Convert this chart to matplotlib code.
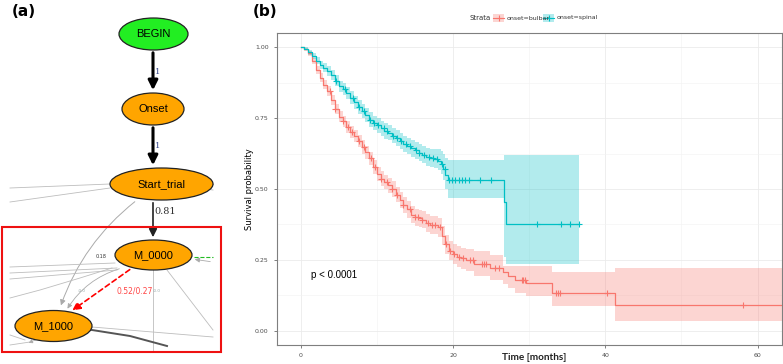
import numpy as np
import matplotlib
matplotlib.use('Agg')
import matplotlib.pyplot as plt
from matplotlib.patches import Ellipse, Rectangle, FancyArrowPatch
from matplotlib.lines import Line2D

# ---- Kaplan-Meier data ----
bulbar_t = [0, 0.5, 1.0, 1.5, 2.0, 2.5, 3.0, 3.5, 4.0, 4.5, 5.0, 5.5, 6.0, 6.5, 7.0, 7.5,
            8.0, 8.5, 9.0, 9.5, 10.0, 10.5, 11.0, 11.5, 12.0, 12.5, 13.0, 13.5, 14.0, 14.5,
            15.0, 15.5, 16.0, 16.5, 17.0, 17.5, 18.0, 18.5, 19.0, 19.5, 20.0, 20.5, 21.0,
            21.7, 22.8, 24.8, 26.6, 27.2, 28.2, 29.6, 33.0, 41.3, 63.2]
bulbar_s = [1.000, 0.992, 0.978, 0.950, 0.920, 0.893, 0.868, 0.845, 0.815, 0.782, 0.755,
            0.738, 0.720, 0.702, 0.686, 0.670, 0.648, 0.630, 0.608, 0.578, 0.552, 0.537,
            0.525, 0.513, 0.500, 0.480, 0.462, 0.443, 0.428, 0.410, 0.400, 0.396, 0.392,
            0.380, 0.374, 0.374, 0.365, 0.335, 0.305, 0.282, 0.270, 0.262, 0.255,
            0.250, 0.236, 0.222, 0.206, 0.195, 0.178, 0.167, 0.134, 0.092, 0.092]
bulbar_hi = [1.000, 0.996, 0.986, 0.961, 0.933, 0.908, 0.884, 0.862, 0.833, 0.801, 0.775,
             0.758, 0.741, 0.723, 0.708, 0.692, 0.671, 0.653, 0.632, 0.602, 0.577, 0.562,
             0.551, 0.539, 0.527, 0.507, 0.490, 0.471, 0.457, 0.439, 0.430, 0.426, 0.423,
             0.411, 0.406, 0.406, 0.398, 0.368, 0.339, 0.316, 0.305, 0.298, 0.292,
             0.289, 0.280, 0.269, 0.227, 0.227, 0.227, 0.228, 0.206, 0.222, 0.222]
bulbar_lo = [1.000, 0.988, 0.970, 0.939, 0.907, 0.878, 0.852, 0.828, 0.797, 0.763, 0.735,
             0.718, 0.699, 0.681, 0.664, 0.648, 0.625, 0.607, 0.584, 0.554, 0.527, 0.512,
             0.499, 0.487, 0.473, 0.453, 0.434, 0.415, 0.399, 0.381, 0.370, 0.366, 0.361,
             0.349, 0.342, 0.342, 0.332, 0.302, 0.271, 0.248, 0.235, 0.226, 0.218,
             0.210, 0.195, 0.180, 0.165, 0.150, 0.135, 0.122, 0.089, 0.036, 0.036]
bulbar_cens = [3.8, 4.5, 5.6, 6.2, 6.8, 7.6, 8.3, 9.2, 9.8, 10.6, 11.3, 12.0, 12.7, 13.5,
               14.3, 15.0, 15.4, 16.0, 16.7, 17.2, 17.6, 18.3, 19.1, 19.6, 20.1, 20.8,
               21.3, 22.3, 22.6, 23.8, 24.1, 24.4, 25.5, 26.0, 29.0, 29.2, 29.4,
               33.5, 33.8, 34.0, 40.2, 58.1]

spinal_t = [0, 0.5, 1.0, 1.5, 2.0, 2.5, 3.0, 3.5, 4.0, 4.5, 5.0, 5.5, 6.0, 6.5, 7.0, 7.5,
            8.0, 8.5, 9.0, 9.5, 10.0, 10.5, 11.0, 11.5, 12.0, 12.5, 13.0, 13.5, 14.0, 14.5,
            15.0, 15.5, 16.0, 16.5, 17.0, 17.5, 18.0, 18.4, 18.7, 19.0, 19.3, 26.7, 26.9, 36.6]
spinal_s = [1.0, 0.995, 0.982, 0.968, 0.953, 0.938, 0.928, 0.915, 0.902, 0.882, 0.862,
            0.851, 0.838, 0.822, 0.806, 0.790, 0.775, 0.760, 0.745, 0.732, 0.724, 0.714,
            0.705, 0.698, 0.688, 0.679, 0.668, 0.660, 0.652, 0.643, 0.636, 0.628, 0.620,
            0.613, 0.608, 0.605, 0.600, 0.588, 0.570, 0.550, 0.530, 0.453, 0.378, 0.378]
spinal_hi = [1.0, 0.999, 0.990, 0.978, 0.965, 0.952, 0.943, 0.932, 0.920, 0.901, 0.882,
             0.872, 0.860, 0.845, 0.829, 0.814, 0.799, 0.784, 0.770, 0.757, 0.750, 0.740,
             0.732, 0.725, 0.715, 0.707, 0.696, 0.688, 0.680, 0.672, 0.665, 0.658, 0.650,
             0.644, 0.640, 0.640, 0.640, 0.635, 0.622, 0.610, 0.603, 0.620, 0.620, 0.620]
spinal_lo = [1.0, 0.991, 0.974, 0.958, 0.941, 0.924, 0.913, 0.898, 0.884, 0.863, 0.842,
             0.830, 0.816, 0.799, 0.783, 0.766, 0.751, 0.736, 0.720, 0.707, 0.698, 0.688,
             0.678, 0.671, 0.661, 0.651, 0.640, 0.632, 0.624, 0.614, 0.607, 0.598, 0.590,
             0.582, 0.576, 0.573, 0.568, 0.553, 0.530, 0.500, 0.468, 0.260, 0.237, 0.237]
spinal_cens = [4.6, 5.8, 6.9, 7.7, 8.3, 9.1, 9.6, 10.2, 10.9, 11.4, 12.1, 12.6, 13.2, 13.8,
               14.3, 15.1, 15.6, 16.2, 16.8, 17.4, 17.9, 18.5, 18.9, 19.5, 19.9, 20.3,
               20.8, 21.2, 21.6, 22.1, 23.5, 25.0, 31.1, 34.2, 35.4, 36.6]

strata = ['onset=bulbar', 'onset=spinal']
colors = ['#F8766D', '#00BFC4']

fig = plt.figure(figsize=(7.83, 3.64), dpi=100)
W, H = 783, 364

# ================= panel (a): transition graph =================
axa = fig.add_axes([0, 0, 240 / W, 1])
axa.set_xlim(0, 240)
axa.set_ylim(364, 0)
axa.axis('off')

grey = '#BDBDBD'
# faint background edges
for xs, ys in [([10, 110], [188, 184]), ([10, 110], [202, 188]), ([196, 213], [184, 184]),
               ([196, 213], [188, 190]), ([10, 115], [267, 263]), ([10, 117], [273, 268]),
               ([10, 117], [279, 270]), ([167, 213], [270, 330]),
               ([92, 213], [327, 337]), ([10, 25], [335, 340]), ([10, 30], [345, 342])]:
    axa.plot(xs, ys, color=grey, lw=0.6)
axa.plot([153, 153], [270, 352], color=grey, lw=0.6)
axa.plot([10, 40, 80, 112], [298, 290, 278, 268], color=grey, lw=0.6)
axa.add_patch(FancyArrowPatch((137, 200), (60, 308), connectionstyle='arc3,rad=0.15',
                              arrowstyle='-|>', mutation_scale=8, color='#AAAAAA', lw=0.7))
axa.add_patch(FancyArrowPatch((122, 268), (66, 311), connectionstyle='arc3,rad=0.2',
                              arrowstyle='-|>', mutation_scale=7, color='#AAAAAA', lw=0.6))
axa.add_patch(FancyArrowPatch((213, 262), (192, 259), arrowstyle='-|>', mutation_scale=7,
                              color='#AAAAAA', lw=0.6))
axa.plot([194, 213], [257, 257], color='#22BB22', lw=0.8, ls='--')
axa.plot([92, 130, 167], [330, 336, 346], color='#555555', lw=1.4)
axa.add_patch(FancyArrowPatch((40, 338), (26, 344), arrowstyle='-|>', mutation_scale=6,
                              color='#AAAAAA', lw=0.5))

# main edges
axa.add_patch(FancyArrowPatch((153, 50), (153, 93), arrowstyle='-|>', mutation_scale=14,
                              color='black', lw=2.2))
axa.add_patch(FancyArrowPatch((153, 125), (153, 168), arrowstyle='-|>', mutation_scale=14,
                              color='black', lw=2.2))
axa.add_patch(FancyArrowPatch((153, 200), (153, 240), arrowstyle='-|>', mutation_scale=12,
                              color='#222222', lw=1.2))
axa.add_patch(FancyArrowPatch((132, 268), (70, 312), arrowstyle='-|>', mutation_scale=12,
                              color='red', lw=1.2, linestyle=(0, (3, 2))))
axa.text(155, 72, '1', fontsize=6, family='DejaVu Serif', color='#334488', va='center')
axa.text(155, 146, '1', fontsize=6, family='DejaVu Serif', color='#334488', va='center')
axa.text(154, 211, '0.81', fontsize=7, family='DejaVu Serif', color='#333333', va='center')
axa.text(117, 291, '0.52/0.27', fontsize=5.5, color='#FF4444', va='center')
axa.text(96, 256, '0.18', fontsize=3.5, color='#333333', va='center')
axa.text(78, 291, '-0.0', fontsize=3, color='#99AAAA', va='center')
axa.text(153, 291, '-0.0', fontsize=3, color='#99AAAA', va='center')

nodes = [('BEGIN', 153.5, 34, 69, 32, '#22EE22'),
         ('Onset', 153, 109, 62, 32, '#FFA500'),
         ('Start_trial', 161.5, 184, 103, 32, '#FFA500'),
         ('M_0000', 153.5, 255, 77, 30, '#FFA500'),
         ('M_1000', 53.5, 326, 77, 31, '#FFA500')]
for name, cx, cy, w, h, fc in nodes:
    axa.add_patch(Ellipse((cx, cy), w, h, facecolor=fc, edgecolor='#222222', lw=0.9, zorder=3))
    axa.text(cx, cy, name, fontsize=8, family='Liberation Sans', ha='center', va='center', zorder=4)

axa.add_patch(Rectangle((2, 227), 219, 125, fill=False, edgecolor='#EE1111', lw=1.5, zorder=5))
axa.text(12, 12, '(a)', fontsize=11, fontweight='bold', va='center')

# ================= panel (b): Kaplan-Meier curves =================
axb = fig.add_axes([277 / W, 19 / H, 505 / W, 312 / H])
axb.set_facecolor('white')
series = [(bulbar_t, bulbar_s, bulbar_lo, bulbar_hi, bulbar_cens),
          (spinal_t, spinal_s, spinal_lo, spinal_hi, spinal_cens)]
for (t, s, lo, hi, cens), col in zip(series, colors):
    axb.fill_between(t, lo, hi, step='post', color=col, alpha=0.3, lw=0)
    axb.step(t, s, where='post', color=col, lw=0.9)
    idx = np.searchsorted(t, cens, side='right') - 1
    axb.plot(cens, np.array(s)[idx], '+', color=col, ms=4, mew=0.8)

axb.text(1.4, 0.198, 'p < 0.0001', fontsize=7, family='Liberation Sans', va='center')
axb.set_xlim(-3.1, 63.2)
axb.set_ylim(-0.05, 1.05)
axb.set_xticks([0, 20, 40, 60])
axb.set_yticks([0, 0.25, 0.5, 0.75, 1.0])
axb.set_yticklabels(['0.00', '0.25', '0.50', '0.75', '1.00'])
axb.set_xticks([10, 30, 50], minor=True)
axb.set_yticks([0.125, 0.375, 0.625, 0.875], minor=True)
axb.grid(True, which='major', color='#EBEBEB', lw=0.6)
axb.grid(True, which='minor', color='#F2F2F2', lw=0.4)
axb.set_axisbelow(True)
axb.tick_params(which='major', labelsize=4.5, colors='#4D4D4D', length=2.5, width=0.5)
axb.tick_params(which='minor', length=0)
for sp in axb.spines.values():
    sp.set_color('#7F7F7F')
    sp.set_linewidth(0.8)
axb.set_ylabel('Survival probability', fontsize=6, labelpad=1)
fig.text(534 / W, 1 - 358 / H, 'Time [months]', fontsize=7.2, family='Lato',
         fontweight='bold', ha='center', va='center', color='#222222')

# legend drawn at the top
fig.text(470 / W, 1 - 18 / H, 'Strata', fontsize=5, ha='left', va='center', color='#333333')
for i, (lab, col) in enumerate(zip(strata, colors)):
    x0 = 493 + i * 50
    fig.patches.append(Rectangle((x0 / W, 1 - 22 / H), 11 / W, 8 / H, transform=fig.transFigure,
                                 facecolor=col, alpha=0.3, lw=0))
    fig.lines.append(Line2D([x0 / W, (x0 + 11) / W], [1 - 18 / H] * 2, transform=fig.transFigure,
                            color=col, lw=0.8))
    fig.lines.append(Line2D([(x0 + 5.5) / W], [1 - 18 / H], transform=fig.transFigure,
                            color=col, marker='+', ms=4, mew=0.8))
    fig.text((x0 + 14) / W, 1 - 18 / H, lab, fontsize=4.5, va='center', color='#333333')

fig.text(253 / W, 1 - 11 / H, '(b)', fontsize=11, fontweight='bold', va='center')

plt.savefig('out.png', dpi=100)
